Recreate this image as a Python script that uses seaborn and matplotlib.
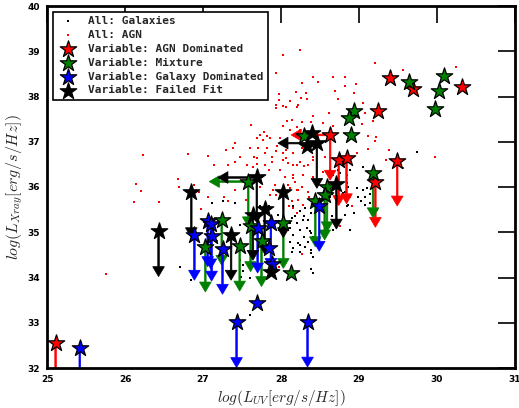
import matplotlib
matplotlib.use("Agg")
import matplotlib.pyplot as plt
import seaborn as sns
import pandas as pd

# ---------------- data ----------------
# All AGN (small red points)
agn_all_x = [28.24, 28.02, 29.21, 30.24, 29.57, 27.94, 28.41, 28.67, 28.82, 28.48, 28.27, 28.82, 28.96,
             28.69, 28.32, 28.19, 27.97, 27.97, 28.26, 28.33, 28.93, 28.12, 28.73, 27.94, 28.02, 28.06,
             28.22, 27.94, 28.20, 28.61, 28.41, 29.05, 29.08, 29.18, 28.08, 28.14, 28.39, 28.54, 28.27,
             28.03, 28.24, 28.20, 28.67, 27.61, 27.78, 27.73, 27.69, 27.77, 27.86, 27.99, 28.12, 29.12,
             29.22, 29.20, 29.04, 27.41, 27.39, 27.30, 27.60, 27.70, 27.82, 27.94, 28.06, 28.16, 28.27,
             27.89, 27.66, 27.48, 27.07, 26.81, 26.23, 27.14, 27.32, 27.57, 27.69, 27.79, 28.07, 28.20,
             28.29, 28.41, 29.12, 29.38, 29.35, 28.97, 28.02, 28.31, 28.41, 28.56, 28.16, 28.35, 28.05,
             28.16, 28.28, 28.18, 28.07, 28.22, 29.97, 29.57, 28.91, 28.76, 25.76, 26.14, 26.20, 26.12,
             26.43, 26.68, 26.69, 26.89, 26.95, 27.07, 26.98, 27.41, 27.85, 27.27, 27.32, 27.41, 27.55,
             27.21, 27.90, 27.94, 28.09, 28.16, 28.20, 28.14, 28.20, 27.86, 27.97, 28.10, 27.18, 27.82,
             27.95, 27.79, 28.03, 27.69, 27.88, 28.09, 28.24, 27.64, 27.99, 28.41, 28.54, 28.84, 27.92,
             27.73, 28.12, 28.27, 28.35, 27.86, 28.22, 28.36, 28.78, 28.15, 28.88, 28.28, 28.27]
agn_all_y = [39.02, 38.92, 38.73, 38.66, 38.58, 38.53, 38.43, 38.44, 38.43, 38.33, 38.30, 38.24, 38.28,
             38.13, 38.08, 38.09, 38.06, 37.93, 37.97, 37.94, 38.08, 37.89, 37.95, 37.82, 37.78, 37.77,
             37.82, 37.75, 37.77, 37.63, 37.56, 37.86, 37.63, 37.46, 37.45, 37.49, 37.43, 37.41, 37.43,
             37.35, 37.25, 37.33, 37.35, 37.37, 37.22, 37.15, 37.08, 37.04, 37.08, 37.08, 37.27, 37.13,
             37.10, 37.02, 37.40, 36.98, 36.87, 36.81, 36.86, 36.87, 36.86, 36.80, 36.81, 36.76, 36.86,
             36.67, 36.67, 36.67, 36.69, 36.72, 36.70, 36.48, 36.48, 36.49, 36.51, 36.48, 36.64, 36.48,
             36.47, 36.67, 36.84, 36.81, 36.60, 36.75, 36.60, 36.82, 36.60, 36.67, 36.49, 36.49, 36.23,
             36.27, 36.27, 36.12, 35.87, 35.94, 36.66, 36.42, 35.57, 35.13, 34.07, 36.07, 35.92, 35.67,
             35.67, 36.18, 36.01, 36.05, 35.90, 35.79, 35.51, 36.56, 36.38, 35.77, 35.68, 35.94, 35.72,
             35.25, 35.94, 35.83, 36.05, 36.20, 35.94, 35.68, 35.42, 34.24, 34.24, 35.57, 34.81, 37.12,
             36.90, 36.75, 36.75, 36.64, 36.56, 36.52, 36.56, 36.45, 36.38, 36.23, 36.34, 36.27, 36.05,
             36.01, 35.98, 36.01, 35.90, 35.83, 35.72, 35.79, 35.83, 35.53, 35.79, 35.61, 34.51]

# All galaxies (small black points)
gal_all_x = [28.16, 28.24, 28.31, 28.18, 28.29, 28.35, 28.20, 28.12, 28.24, 28.33, 28.16, 28.29, 28.39,
             28.12, 28.22, 28.31, 28.39, 28.14, 28.24, 28.65, 28.76, 28.88, 28.84, 28.93, 28.67, 29.74,
             28.63, 28.73, 28.63, 28.84, 28.97, 29.05, 28.82, 28.99, 29.08, 28.84, 29.03, 28.91, 29.14,
             29.23, 28.82, 28.63, 28.39, 28.28, 28.12, 28.07, 28.37, 28.41, 28.24, 28.15, 28.03, 29.05,
             28.88, 28.76, 28.86, 29.10, 29.14, 28.86, 29.08, 28.79, 29.16, 28.67, 28.35, 28.39, 28.41,
             28.38, 28.41, 27.60, 27.60, 26.70, 26.84, 27.48, 27.51, 27.51, 27.11, 27.26, 27.41, 27.73,
             27.84, 28.14, 27.47, 27.96, 27.49]
gal_all_y = [35.57, 35.46, 35.53, 35.35, 35.35, 35.27, 35.20, 35.09, 35.05, 35.09, 34.94, 34.90, 34.98,
             34.79, 34.76, 34.68, 34.61, 34.57, 34.57, 35.35, 35.27, 35.05, 35.57, 35.42, 36.27, 36.77,
             36.38, 36.38, 36.20, 36.09, 35.98, 35.94, 35.90, 35.79, 35.79, 35.68, 35.68, 35.57, 35.64,
             35.50, 35.38, 35.79, 35.42, 35.27, 35.20, 35.09, 35.02, 34.90, 34.72, 34.65, 35.05, 36.45,
             36.38, 36.31, 36.01, 35.98, 35.85, 35.61, 35.61, 35.87, 35.50, 35.05, 34.79, 34.55, 34.45,
             34.18, 34.10, 33.98, 33.17, 34.23, 33.95, 34.39, 34.28, 34.15, 35.64, 35.68, 35.64, 35.57,
             35.57, 35.31, 35.16, 35.38, 34.02]

# Variable: AGN dominated
var_agn_x = [25.11, 29.40, 29.69, 30.32, 29.24, 28.63, 28.74, 28.84, 29.49, 29.21]
var_agn_y = [32.55, 38.41, 38.17, 38.22, 37.69, 37.15, 36.59, 36.63, 36.58, 36.11]
var_agn_down = [1, 0, 0, 0, 0, 1, 1, 1, 1, 1]
var_agn_left = [0, 0, 0, 0, 0, 1, 0, 0, 0, 0]

# Variable: Mixture
var_mix_x = [30.09, 29.64, 30.02, 29.97, 28.93, 28.87, 28.90, 28.29, 29.18, 28.59,
             28.56, 28.44, 27.58, 27.61, 27.24, 27.03, 27.47, 27.75, 28.03, 28.13]
var_mix_y = [38.46, 38.32, 38.13, 37.72, 37.69, 37.52, 37.15, 37.12, 36.32, 36.01,
             35.83, 35.68, 36.12, 35.13, 35.27, 34.68, 34.70, 34.80, 35.20, 34.10]
var_mix_down = [0, 0, 0, 0, 0, 0, 0, 0, 1, 1, 1, 1, 1, 1, 1, 1, 1, 1, 1, 0]
var_mix_left = [0, 0, 0, 0, 0, 0, 0, 0, 0, 0, 0, 0, 1, 0, 0, 0, 0, 0, 0, 0]

# Variable: Galaxy dominated
var_gal_x = [25.42, 27.43, 28.34, 27.69, 26.89, 27.06, 27.10, 27.11, 27.25, 27.70, 27.87, 27.84, 27.88, 28.49]
var_gal_y = [32.44, 33.01, 33.02, 33.43, 34.94, 35.24, 35.19, 34.92, 34.63, 35.10, 35.20, 34.66, 34.29, 35.58]
var_gal_down = [1, 1, 1, 0, 1, 1, 1, 1, 1, 1, 1, 0, 0, 1]
var_gal_left = [0] * 14

# Variable: Failed fit
var_fail_x = [26.43, 26.85, 27.36, 27.69, 27.64, 27.79, 28.03, 27.87, 28.40, 28.33, 28.46, 28.71]
var_fail_y = [35.02, 35.88, 34.94, 36.21, 35.38, 35.52, 35.88, 34.13, 37.19, 36.90, 36.97, 36.07]
var_fail_down = [1, 1, 1, 1, 1, 1, 1, 0, 0, 0, 1, 1]
var_fail_left = [0, 0, 0, 1, 0, 0, 0, 0, 0, 0, 1, 0]

ylim_len = 1.0   # length of upper-limit arrow in L_X
xlim_len = 0.5   # length of upper-limit arrow in L_UV

# ---------------- style ----------------
sns.set_style("white")
plt.rcParams["mathtext.fontset"] = "cm"
plt.rcParams["font.family"] = ["DejaVu Sans"]

fig = plt.figure(figsize=(5.19, 4.08), dpi=100)
ax = fig.add_axes([47 / 519, 1 - 368 / 408, 468 / 519, 362 / 408])

# background points
sns.scatterplot(x=gal_all_x, y=gal_all_y, ax=ax, color="black", marker="s", s=4,
                linewidth=0, label="All: Galaxies", zorder=1)
sns.scatterplot(x=agn_all_x, y=agn_all_y, ax=ax, color="red", marker="s", s=4,
                linewidth=0, label="All: AGN", zorder=1)

groups = [
    ("Variable: AGN Dominated", "#ff0000", var_agn_x, var_agn_y, var_agn_down, var_agn_left),
    ("Variable: Mixture", "#008000", var_mix_x, var_mix_y, var_mix_down, var_mix_left),
    ("Variable: Galaxy Dominated", "#0000ff", var_gal_x, var_gal_y, var_gal_down, var_gal_left),
    ("Variable: Failed Fit", "#000000", var_fail_x, var_fail_y, var_fail_down, var_fail_left),
]

# arrows (upper limits)
for label, col, xs, ys, down, left in groups:
    for x, y, d, l in zip(xs, ys, down, left):
        if d:
            ax.arrow(x, y, 0, -ylim_len, width=0.02, head_width=0.15, head_length=0.22,
                     length_includes_head=True, fc=col, ec=col, lw=0.5, zorder=2)
        if l:
            ax.arrow(x, y, -xlim_len, 0, width=0.035, head_width=0.26, head_length=0.13,
                     length_includes_head=True, fc=col, ec=col, lw=0.5, zorder=2)

# stars
for label, col, xs, ys, down, left in groups:
    sns.scatterplot(x=xs, y=ys, ax=ax, color=col, marker="*", s=155,
                    edgecolor="black", linewidth=0.9, label=label, zorder=3)

ax.set_xlim(25, 31)
ax.set_ylim(32, 40)
ax.set_xticks(range(25, 32))
ax.set_yticks(range(32, 41))

for sp in ax.spines.values():
    sp.set_linewidth(2)
    sp.set_color("black")

ax.tick_params(which="major", direction="in", length=12, width=1.2, top=True, right=True,
               labelsize=6.5, pad=5, colors="black")
for lab in ax.get_xticklabels() + ax.get_yticklabels():
    lab.set_fontweight("bold")

ax.set_xlabel(r"$log(L_{UV}[erg/s/Hz])$", fontsize=11, labelpad=3)
ax.set_ylabel(r"$log(L_{Xray}[erg/s/Hz])$", fontsize=11.5, labelpad=2)

leg = ax.legend(loc="upper left", scatterpoints=1, frameon=True, fancybox=False,
                prop={"family": "DejaVu Sans Mono", "weight": "bold", "size": 8},
                labelspacing=0.35, borderpad=0.4, handletextpad=0.8, handlelength=2.0)
leg.get_frame().set_edgecolor("black")
leg.get_frame().set_linewidth(1.2)
leg.get_frame().set_alpha(1)

fig.savefig("out.png", dpi=100)
